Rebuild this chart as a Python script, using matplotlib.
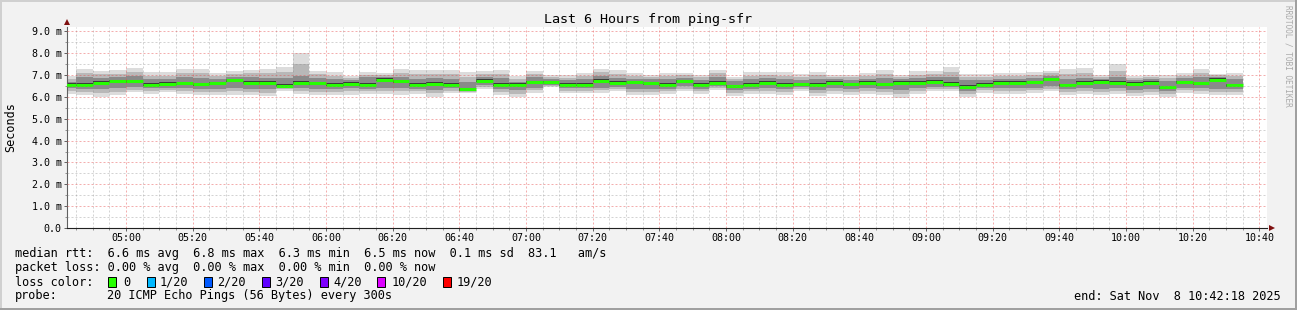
#!/usr/bin/env python3
"""SmokePing style latency graph: last 6 hours from ping-sfr."""
import matplotlib
matplotlib.use("Agg")
import matplotlib.pyplot as plt
import numpy as np
from matplotlib.patches import Rectangle, Polygon

W, H = 1297, 310
MONO = "DejaVu Sans Mono"

# ── Data (ms) ─────────────────────────────────────────────────────────────────
# start of each 5-minute slot, minutes after midnight (first slot clipped at the edge)
slot_start = np.arange(280, 635, 5)

median = [6.56, 6.55, 6.65, 6.71, 6.71, 6.55, 6.59, 6.62, 6.58, 6.62, 6.76, 6.64,
          6.64, 6.52, 6.64, 6.62, 6.56, 6.59, 6.55, 6.78, 6.71, 6.56, 6.61, 6.56,
          6.36, 6.74, 6.56, 6.55, 6.68, 6.68, 6.56, 6.55, 6.74, 6.64, 6.68, 6.62,
          6.56, 6.71, 6.55, 6.65, 6.48, 6.55, 6.64, 6.55, 6.58, 6.56, 6.65, 6.58,
          6.64, 6.58, 6.65, 6.64, 6.70, 6.59, 6.47, 6.56, 6.64, 6.64, 6.68, 6.80,
          6.53, 6.64, 6.70, 6.65, 6.59, 6.64, 6.45, 6.68, 6.62, 6.78, 6.53]

smoke_hi = [6.94, 7.26, 7.20, 7.22, 7.33, 7.14, 7.14, 7.30, 7.30, 7.11, 7.20, 7.25,
            7.30, 7.39, 8.03, 7.20, 7.14, 6.94, 7.14, 7.10, 7.30, 7.25, 7.23, 7.23,
            7.14, 7.17, 7.25, 6.94, 7.17, 7.02, 6.99, 7.10, 7.30, 7.23, 7.10, 7.02,
            7.10, 7.10, 7.02, 7.25, 6.90, 7.14, 7.14, 7.14, 7.05, 7.14, 7.02, 7.02,
            7.10, 7.25, 7.02, 7.17, 7.17, 7.36, 7.05, 7.05, 7.10, 7.10, 7.14, 7.20,
            7.30, 7.33, 6.99, 7.51, 6.94, 6.99, 6.99, 7.10, 7.30, 7.05, 7.10]

smoke_lo = [6.13, 6.07, 6.00, 6.07, 6.22, 6.13, 6.22, 6.15, 6.10, 6.07, 6.10, 6.07,
            6.03, 6.26, 6.15, 6.10, 6.10, 6.10, 6.15, 6.15, 6.10, 6.15, 6.00, 6.18,
            6.18, 6.38, 6.10, 6.00, 6.18, 6.44, 6.18, 6.18, 6.18, 6.26, 6.10, 6.10,
            6.13, 6.29, 6.13, 6.33, 6.03, 6.13, 6.13, 6.10, 6.29, 6.03, 6.13, 6.07,
            6.13, 6.07, 5.95, 6.15, 6.26, 6.29, 5.98, 6.18, 6.13, 6.13, 6.18, 6.26,
            6.10, 6.13, 6.10, 6.15, 6.03, 6.10, 6.00, 6.18, 6.13, 6.07, 6.10]

core_lo = [6.42, 6.38, 6.35, 6.40, 6.45, 6.40, 6.42, 6.40, 6.38, 6.36, 6.42, 6.38,
           6.36, 6.45, 6.40, 6.38, 6.36, 6.40, 6.38, 6.42, 6.40, 6.38, 6.32, 6.40,
           6.30, 6.55, 6.36, 6.30, 6.42, 6.55, 6.40, 6.40, 6.42, 6.45, 6.38, 6.38,
           6.38, 6.48, 6.38, 6.50, 6.30, 6.38, 6.40, 6.36, 6.45, 6.32, 6.40, 6.36,
           6.40, 6.36, 6.30, 6.40, 6.45, 6.46, 6.28, 6.42, 6.40, 6.40, 6.42, 6.50,
           6.36, 6.40, 6.36, 6.40, 6.32, 6.38, 6.28, 6.42, 6.40, 6.38, 6.36]

core_hi = [6.70, 6.92, 6.88, 6.90, 6.95, 6.82, 6.80, 6.90, 6.88, 6.82, 6.92, 6.90,
           6.88, 6.85, 6.95, 6.86, 6.80, 6.76, 6.90, 6.92, 6.90, 6.84, 6.86, 6.84,
           6.70, 6.90, 6.88, 6.70, 6.90, 6.80, 6.76, 6.80, 6.95, 6.88, 6.84, 6.80,
           6.80, 6.88, 6.76, 6.92, 6.72, 6.82, 6.86, 6.80, 6.76, 6.84, 6.82, 6.78,
           6.84, 6.86, 6.80, 6.88, 6.90, 6.92, 6.76, 6.78, 6.84, 6.82, 6.88, 6.96,
           6.84, 6.88, 6.82, 6.90, 6.76, 6.80, 6.74, 6.86, 6.90, 6.92, 6.80]

x_ticks = [300, 320, 340, 360, 380, 400, 420, 440, 460, 480, 500, 520, 540, 560, 580,
           600, 620, 640]
x_labels = ["05:00", "05:20", "05:40", "06:00", "06:20", "06:40", "07:00", "07:20",
            "07:40", "08:00", "08:20", "08:40", "09:00", "09:20", "09:40", "10:00",
            "10:20", "10:40"]
y_ticks = [0, 1, 2, 3, 4, 5, 6, 7, 8, 9]
y_labels = ["0.0", "1.0 m", "2.0 m", "3.0 m", "4.0 m", "5.0 m", "6.0 m", "7.0 m",
            "8.0 m", "9.0 m"]

loss_labels = ["0", "1/20", "2/20", "3/20", "4/20", "10/20", "19/20"]
loss_colors = ["#26ff00", "#00b8ff", "#0059ff", "#5e00ff", "#7e00ff", "#dd00ff", "#ff0000"]
loss_box_x = [108, 147, 204, 262, 320, 377, 443]
loss_text_x = [123, 160, 217, 275, 333, 392, 457]


def fx(px):
    return px / W


def fy(py):
    return 1 - py / H


fig = plt.figure(figsize=(W / 100, H / 100), dpi=100)
fig.patch.set_facecolor("#f2f2f2")

# 3D-ish frame
fig.add_artist(Rectangle((0, 0), 1, 2 / H, transform=fig.transFigure, color="#a0a0a0", lw=0))
fig.add_artist(Rectangle((1 - 2 / W, 0), 2 / W, 1, transform=fig.transFigure, color="#a0a0a0", lw=0))
fig.add_artist(Rectangle((0, 1 - 2 / H), 1 - 2 / W, 2 / H, transform=fig.transFigure, color="#d0d0d0", lw=0))
fig.add_artist(Rectangle((0, 2 / H), 2 / W, 1 - 4 / H, transform=fig.transFigure, color="#d0d0d0", lw=0))

ax = fig.add_axes([fx(67), fy(228), 1200 / W, 201 / H])
ax.set_facecolor("white")
ax.set_xlim(282.3, 642.3)
ax.set_ylim(0, 9.2)

# ── Smoke ─────────────────────────────────────────────────────────────────────
lo, hi = np.array(smoke_lo), np.array(smoke_hi)
clo, chi = np.array(core_lo), np.array(core_hi)
med = np.array(median)
ax.bar(slot_start, hi - lo, bottom=lo, width=5, align="edge", color="#dcdcdc", lw=0, zorder=2)
ax.bar(slot_start, (hi + chi) / 2 - (lo + clo) / 2, bottom=(lo + clo) / 2, width=5,
       align="edge", color="#b8b8b8", lw=0, zorder=2)
ax.bar(slot_start, chi - clo, bottom=clo, width=5, align="edge", color="#8a8a8a", lw=0, zorder=2)
ax.bar(slot_start, 0.14, bottom=med - 0.07, width=5, align="edge", color="#3a3a3a", lw=0, zorder=2)
ax.hlines(med, slot_start, slot_start + 5, colors="#26ff00", lw=2.2, zorder=4)

# ── Grid (dotted, over the data like rrdtool) ─────────────────────────────────
grid_kw = dict(lw=0.72, linestyle=(0, (2, 2)), zorder=5)
minor_col = (0.55, 0.55, 0.55, 0.38)
major_col = (0.9, 0.3, 0.3, 0.45)
for m in np.arange(285, 642, 5):
    if m % 20:
        ax.axvline(m, color=minor_col, **grid_kw)
for v in np.arange(0.5, 9.2, 1.0):
    ax.axhline(v, color=minor_col, **grid_kw)
for m in x_ticks:
    ax.axvline(m, color=major_col, **grid_kw)
for v in y_ticks[1:]:
    ax.axhline(v, color=major_col, **grid_kw)

ax.set_xticks(x_ticks)
ax.set_xticklabels(x_labels, family=MONO, fontsize=7.2)
ax.set_xticks(np.arange(285, 642, 5), minor=True)
ax.set_yticks(y_ticks)
ax.set_yticklabels(y_labels, family=MONO, fontsize=7.2)
ax.set_yticks(np.arange(0.5, 9.2, 1.0), minor=True)
ax.tick_params(axis="both", which="major", direction="out", length=2.2, width=0.7,
               color="#606060", pad=1.5)
ax.tick_params(axis="both", which="minor", direction="out", length=1.4, width=0.7,
               color="#909090")
for s in ("top", "right"):
    ax.spines[s].set_visible(False)
ax.spines["left"].set_color("#606060")
ax.spines["left"].set_linewidth(0.8)
ax.spines["bottom"].set_color("#202020")
ax.spines["bottom"].set_linewidth(0.8)

# axis arrows
fig.add_artist(Polygon([(fx(64), fy(25)), (fx(70), fy(25)), (fx(67), fy(19))],
                       closed=True, transform=fig.transFigure, color="#7f1010", lw=0))
fig.add_artist(Polygon([(fx(1269), fy(225)), (fx(1269), fy(231)), (fx(1275), fy(228))],
                       closed=True, transform=fig.transFigure, color="#7f1010", lw=0))
fig.add_artist(Rectangle((fx(1267), fy(228.4)), 3 / W, 0.8 / H, transform=fig.transFigure,
                         color="#202020", lw=0))

# ── Texts ─────────────────────────────────────────────────────────────────────
fig.text(fx(648.5), fy(19), "Last 6 Hours from ping-sfr", family=MONO, fontsize=9.6,
         ha="center", va="center")
fig.text(fx(11), fy(127), "Seconds", family=MONO, fontsize=8.5, rotation=90,
         ha="center", va="center")
fig.text(fx(1288), fy(5), "RRDTOOL / TOBI OETIKER", family=MONO, fontsize=5.6,
         rotation=270, ha="center", va="top", color="#aaaaaa")

leg = dict(family=MONO, fontsize=8.55, ha="left", va="center")
fig.text(fx(15), fy(254),
         "median rtt:  6.6 ms avg  6.8 ms max  6.3 ms min  6.5 ms now  0.1 ms sd  83.1   am/s",
         **leg)
fig.text(fx(15), fy(268), "packet loss: 0.00 % avg  0.00 % max  0.00 % min  0.00 % now", **leg)
fig.text(fx(15), fy(282), "loss color:", **leg)
for bx, tx, lab, col in zip(loss_box_x, loss_text_x, loss_labels, loss_colors):
    fig.add_artist(Rectangle((fx(bx), fy(287)), 8 / W, 10 / H, transform=fig.transFigure,
                             facecolor=col, edgecolor="black", lw=0.7))
    fig.text(fx(tx), fy(282), lab, **leg)
fig.text(fx(15), fy(296), "probe:", **leg)
fig.text(fx(107), fy(296), "20 ICMP Echo Pings (56 Bytes) every 300s", **leg)
fig.text(fx(1281), fy(296), "end: Sat Nov  8 10:42:18 2025",
         family=MONO, fontsize=8.55, ha="right", va="center")

fig.savefig("out.png", dpi=100, facecolor=fig.get_facecolor())
